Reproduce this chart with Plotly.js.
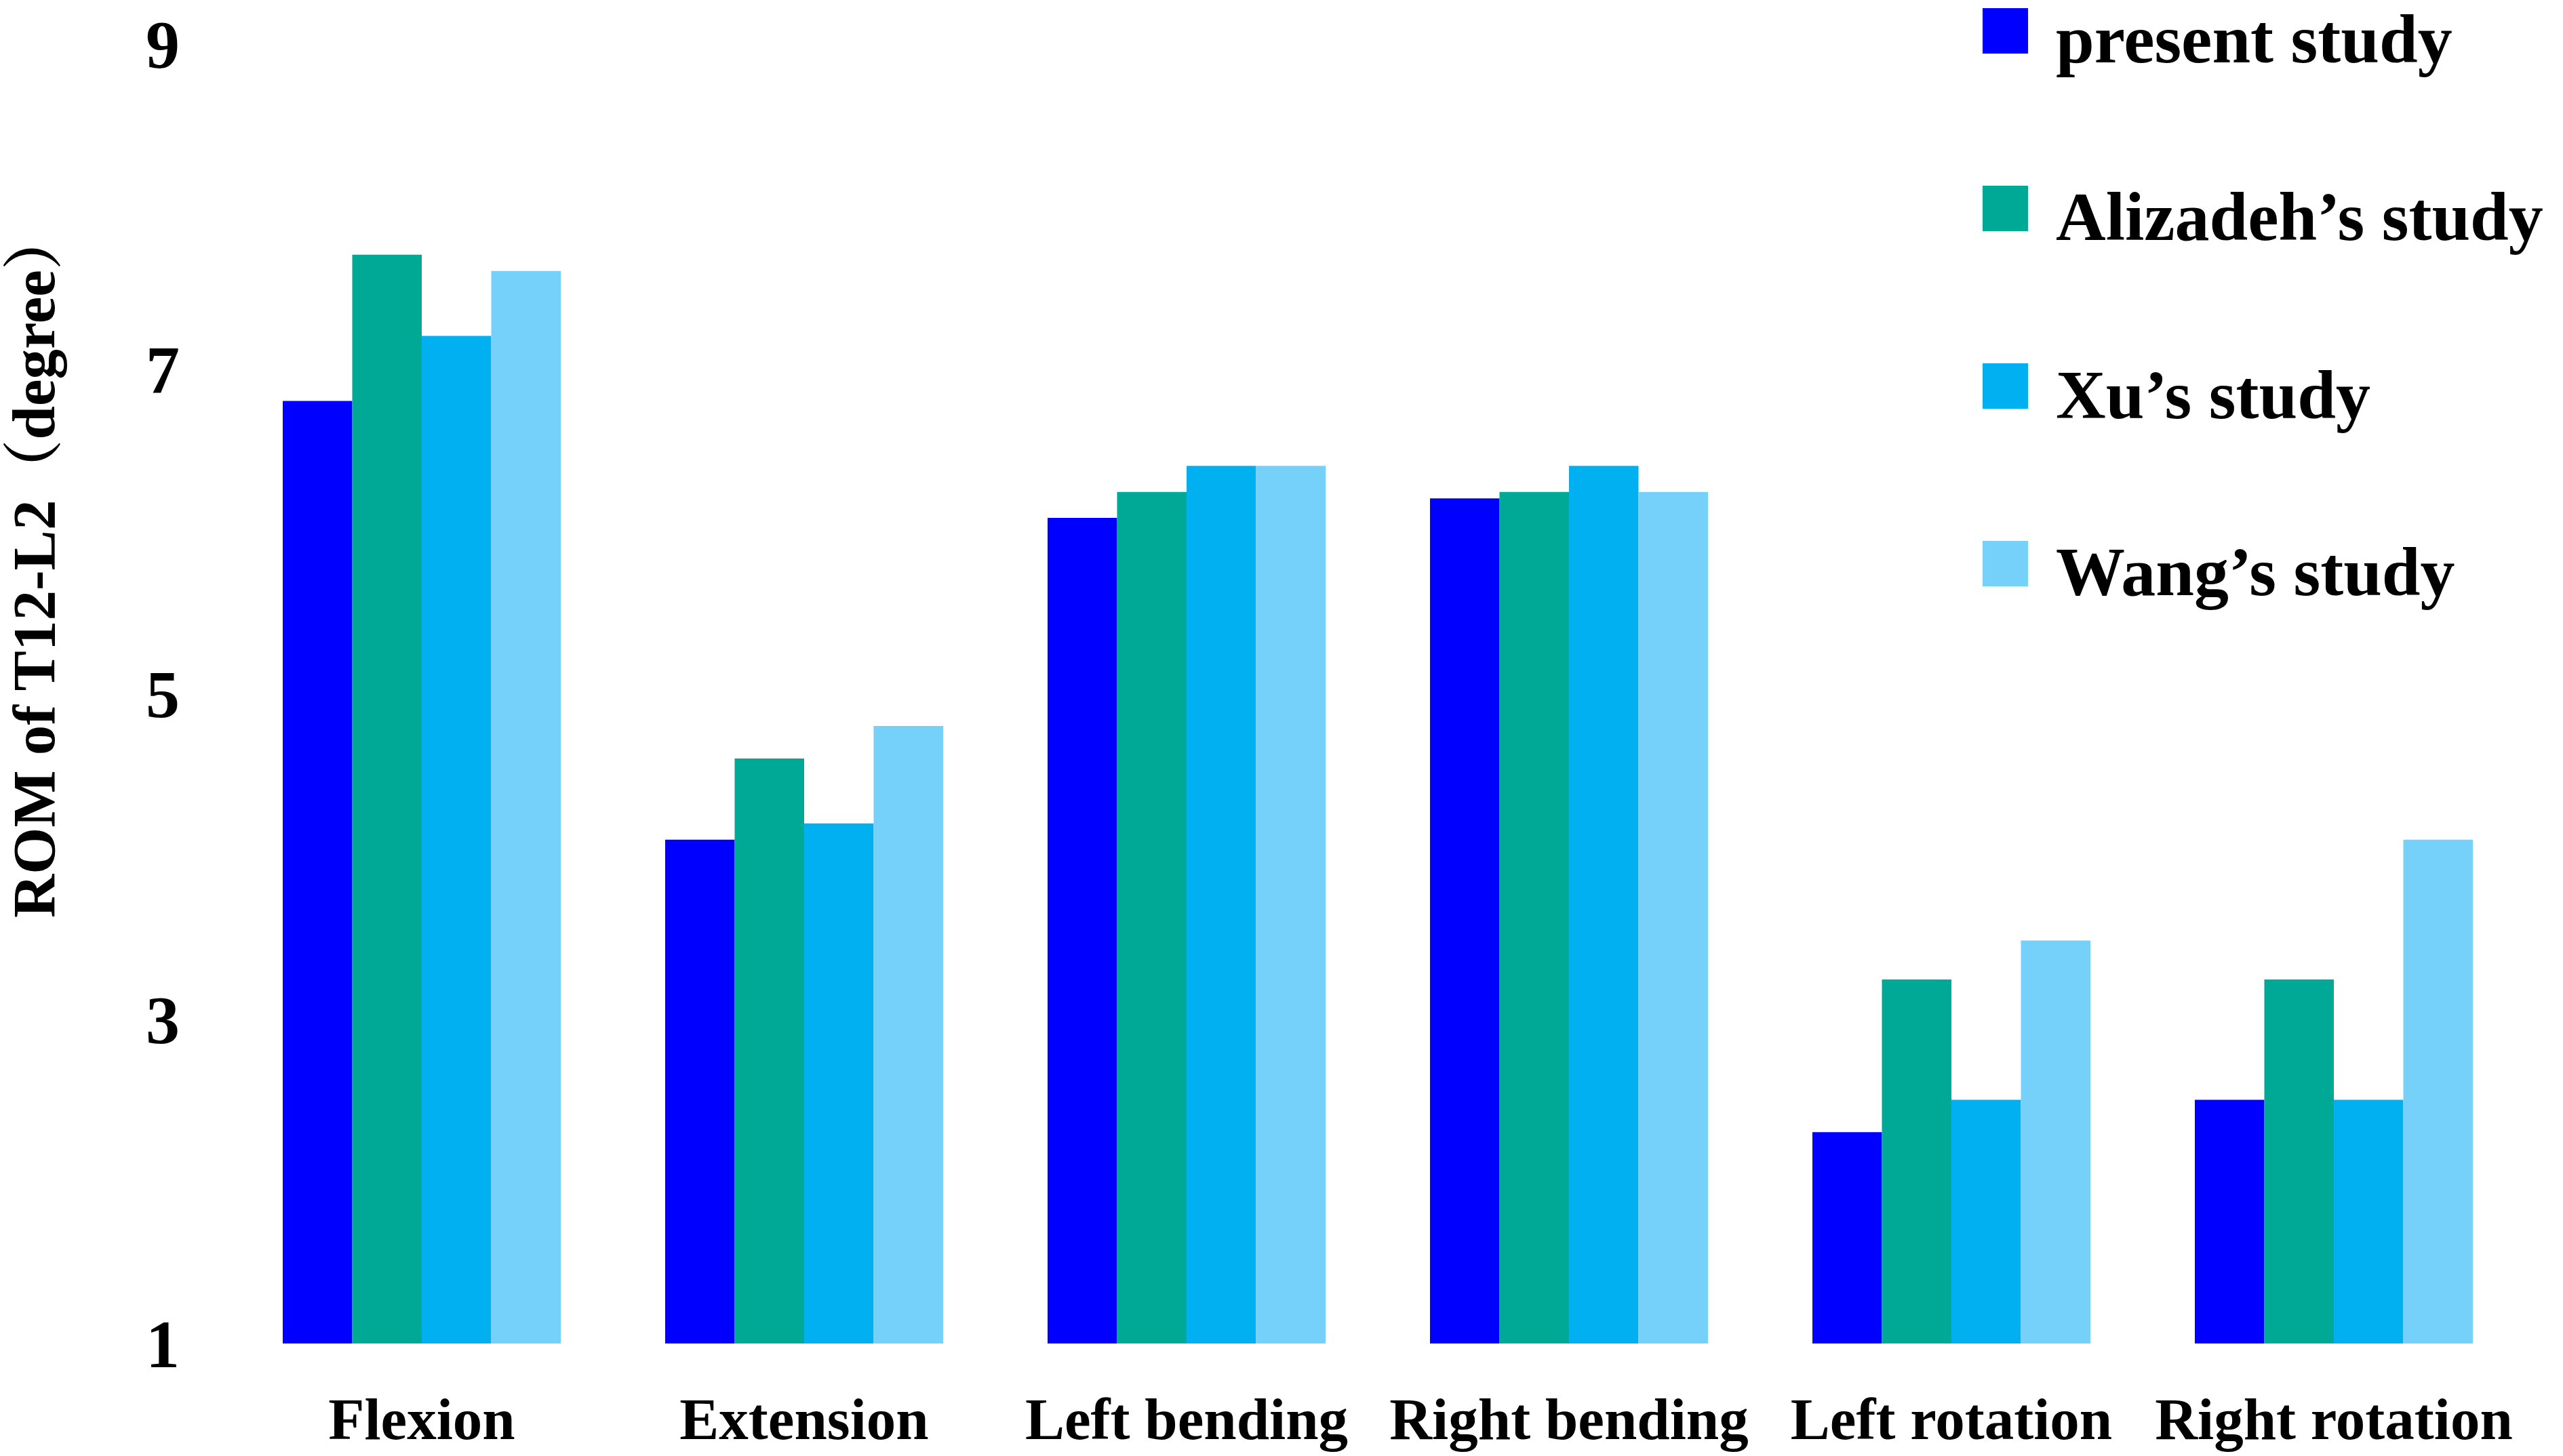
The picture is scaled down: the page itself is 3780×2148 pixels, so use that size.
<!DOCTYPE html>
<html>
<head>
<meta charset="utf-8">
<script src="https://cdn.plot.ly/plotly-3.0.1.min.js"></script>
<style>
  html, body { margin: 0; padding: 0; background: #ffffff; }
  #chart { width: 3780px; height: 2148px; }
</style>
</head>
<body>
<div id="chart"></div>
<script>
// ---- data ----
const categories = ["Flexion", "Extension", "Left bending", "Right bending", "Left rotation", "Right rotation"];
const seriesNames = ["present study", "Alizadeh\u2019s study", "Xu\u2019s study", "Wang\u2019s study"];
const presentStudy = [6.8, 4.1, 6.08, 6.2, 2.3, 2.5];
const alizadehStudy = [7.7, 4.6, 6.24, 6.24, 3.24, 3.24];
const xuStudy = [7.2, 4.2, 6.4, 6.4, 2.5, 2.5];
const wangStudy = [7.6, 4.8, 6.4, 6.24, 3.48, 4.1];
const yTickValues = [1, 3, 5, 7, 9];
const yTitle = "ROM of T12-L2\uFF08degree\uFF09";

// ---- style ----
const colors = ["#0000FF", "#00A896", "#00B0F0", "#75D1FA"];
const serif = "Liberation Serif, Times New Roman, Noto Serif CJK SC, Noto Sans CJK SC, serif";

const W = 3780, H = 2148;
const M = { l: 340, r: 56, t: 64, b: 166 };
const PW = W - M.l - M.r, PH = H - M.t - M.b;
const px2x = p => (p - M.l) / PW;
const px2y = p => (H - M.b - p) / PH;

const allSeries = [presentStudy, alizadehStudy, xuStudy, wangStudy];
const traces = allSeries.map((vals, i) => ({
  type: "bar",
  name: seriesNames[i],
  x: categories,
  y: vals,
  marker: { color: colors[i], line: { width: 0 } },
  showlegend: false,
  hoverinfo: "x+y+name"
}));

// manual legend (large square swatches)
const legendTops = [12, 274, 536, 798];
const swatch = 67;
const shapes = [];
const annotations = [];
seriesNames.forEach((nm, i) => {
  const top = legendTops[i];
  shapes.push({
    type: "rect", xref: "paper", yref: "paper",
    x0: px2x(2924), x1: px2x(2924 + swatch),
    y0: px2y(top + swatch), y1: px2y(top),
    fillcolor: colors[i], line: { width: 0 }
  });
  annotations.push({
    xref: "paper", yref: "paper",
    x: px2x(3030), y: px2y(top + 46),
    xanchor: "left", yanchor: "middle",
    text: "<b>" + nm + "</b>", showarrow: false,
    font: { family: serif, size: 102, color: "#000000" }
  });
});

// y-axis title (placed as rotated text to match the reference's off-centre position)
annotations.push({
  xref: "paper", yref: "paper",
  x: px2x(50), y: px2y(832),
  xanchor: "center", yanchor: "middle",
  textangle: -90,
  text: "<b>" + yTitle + "</b>", showarrow: false,
  font: { family: serif, size: 89, color: "#000000" }
});

const layout = {
  width: W, height: H,
  margin: M,
  paper_bgcolor: "#ffffff",
  plot_bgcolor: "#ffffff",
  barmode: "group",
  bargap: 0.273,
  bargroupgap: 0,
  showlegend: false,
  xaxis: {
    type: "category",
    showgrid: false, zeroline: false, showline: false,
    ticks: "outside", ticklen: 36, tickcolor: "rgba(0,0,0,0)",
    tickfont: { family: serif, size: 87, color: "#000000", weight: "bold" },
    automargin: false
  },
  yaxis: {
    range: [1, 9],
    tickvals: yTickValues,
    ticktext: yTickValues.map(v => "<b>" + v + "</b>"),
    showgrid: false, zeroline: false, showline: false,
    ticks: "outside", ticklen: 54, tickcolor: "rgba(0,0,0,0)",
    tickfont: { family: serif, size: 100, color: "#000000" },
    automargin: false
  },
  shapes: shapes,
  annotations: annotations
};

Plotly.newPlot("chart", traces, layout, { displayModeBar: false, staticPlot: true });
</script>
</body>
</html>
